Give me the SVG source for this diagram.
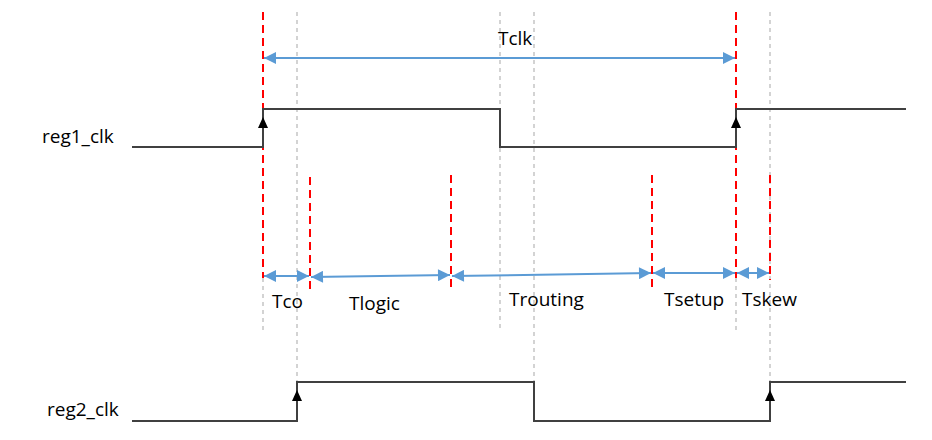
<svg xmlns="http://www.w3.org/2000/svg" width="932" height="440" viewBox="0 0 932 440">
<style>
.sig{fill:none;stroke:#404040;stroke-width:2}
.red{stroke:#FF0000;stroke-width:2;stroke-dasharray:8 5;fill:none}
.gray{stroke:#D3D3D3;stroke-width:2;stroke-dasharray:4 4;fill:none}
.blue{stroke:#5B9BD5;stroke-width:2;fill:none;marker-start:url(#bs);marker-end:url(#be)}
text{font-family:"Open Sans","Liberation Sans",sans-serif;font-size:19px;fill:#000}
</style>
<defs>
<marker id="be" viewBox="0 0 10 10" refX="10" refY="5" markerWidth="7" markerHeight="6" orient="auto" markerUnits="strokeWidth"><path d="M0,0 L10,5 L0,10 z" fill="#5B9BD5"/></marker>
<marker id="bs" viewBox="0 0 10 10" refX="0" refY="5" markerWidth="7" markerHeight="6" orient="auto" markerUnits="strokeWidth"><path d="M10,0 L0,5 L10,10 z" fill="#5B9BD5"/></marker>
</defs>
<rect width="932" height="440" fill="#fff"/>
<g id="guides">
<line class="gray" x1="263" y1="278" x2="263" y2="330"/>
<line class="gray" x1="297" y1="12" x2="297" y2="382"/>
<line class="gray" x1="500" y1="12" x2="500" y2="330"/>
<line class="gray" x1="534" y1="12" x2="534" y2="382"/>
<line class="gray" x1="736" y1="278" x2="736" y2="330"/>
<line class="gray" x1="770" y1="12" x2="770" y2="382"/>
<line class="red" x1="263" y1="12" x2="263" y2="278"/>
<line class="red" x1="736" y1="12" x2="736" y2="278"/>
<line class="red" x1="310" y1="177" x2="310" y2="290"/>
<line class="red" x1="451" y1="175" x2="451" y2="292"/>
<line class="red" x1="652" y1="175" x2="652" y2="292"/>
<line class="red" x1="770" y1="175" x2="770" y2="280"/>
</g>
<g id="reg1">
<text x="42" y="143">reg1_clk</text>
<path class="sig" d="M132,147 H263 V109 H500 V147 H736 V109 H906"/>
<path d="M263,117 L268,128 L258,128 z" fill="#000"/>
<path d="M736,117 L741,128 L731,128 z" fill="#000"/>
</g>
<g id="reg2">
<text x="47" y="416">reg2_clk</text>
<path class="sig" d="M132,421 H297 V382 H534 V421 H770 V382 H906"/>
<path d="M297,390 L302,401 L292,401 z" fill="#000"/>
<path d="M770,390 L775,401 L765,401 z" fill="#000"/>
</g>
<g id="connectors">
<line class="blue" x1="264" y1="58" x2="735" y2="58"/>
<line class="blue" x1="264" y1="276" x2="309" y2="276"/>
<line class="blue" x1="311" y1="277" x2="450" y2="275"/>
<line class="blue" x1="452" y1="276" x2="651" y2="273"/>
<line class="blue" x1="653" y1="273" x2="735" y2="273"/>
<line class="blue" x1="737" y1="273" x2="769" y2="273"/>
</g>
<g id="labels">
<text x="498" y="45">Tclk</text>
<text x="272" y="308">Tco</text>
<text x="349" y="310">Tlogic</text>
<text x="509" y="306">Trouting</text>
<text x="664" y="306">Tsetup</text>
<text x="742" y="306">Tskew</text>
</g>
</svg>
